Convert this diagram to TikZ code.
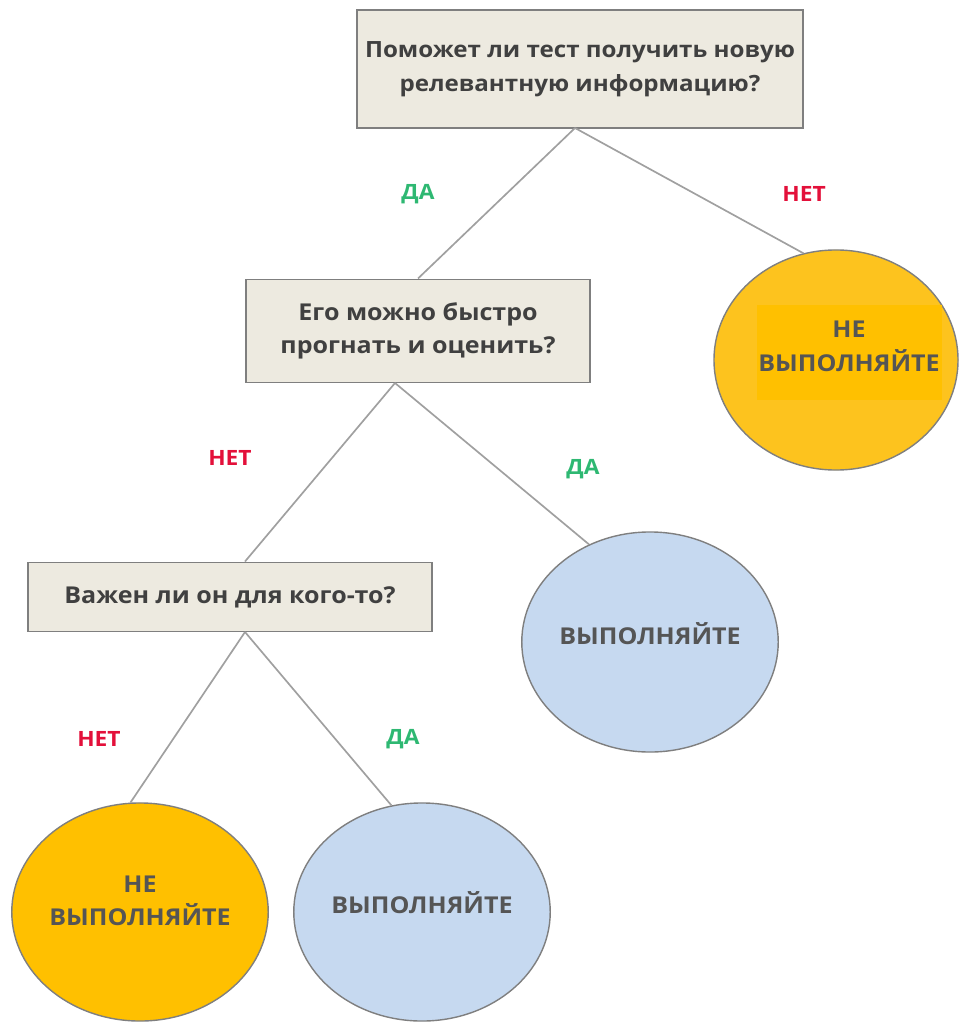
\documentclass[tikz,border=0pt]{standalone}
\usepackage{fontspec}
\setmainfont{Open Sans}[FakeStretch=1.08]
\usetikzlibrary{shapes.geometric}
\definecolor{boxfill}{HTML}{EDEAE0}
\definecolor{edgegray}{HTML}{7F7F7F}
\definecolor{linegray}{HTML}{A0A0A0}
\definecolor{amber}{HTML}{FFC000}
\definecolor{amberlt}{HTML}{FDC31E}
\definecolor{paleblue}{HTML}{C6D9F0}
\definecolor{yesgreen}{HTML}{2EB872}
\definecolor{nored}{HTML}{E3103A}
\definecolor{txtdark}{HTML}{404040}
\definecolor{txtgray}{HTML}{555555}
\tikzset{
  question/.style={draw=edgegray,line width=1.4pt,fill=boxfill,text=txtdark,align=center,
    font=\bfseries\fontsize{16.5}{24}\selectfont,inner sep=0pt},
  outcome/.style={ellipse,draw=edgegray,line width=1pt,text=txtgray,align=center,inner sep=0pt,
    minimum width=6.4cm,minimum height=5.5cm,font=\bfseries\fontsize{16.5}{24}\selectfont},
  branch/.style={draw=linegray,line width=1.2pt},
  yes/.style={text=yesgreen,font=\bfseries\fontsize{15}{18}\selectfont},
  no/.style={text=nored,font=\bfseries\fontsize{15}{18}\selectfont}
}
\begin{document}
\begin{tikzpicture}[x=0.025cm,y=-0.025cm]
\useasboundingbox (0,0) rectangle (960,1023);
% questions
\node[question,minimum width=11.15cm,minimum height=2.95cm,font=\bfseries\fontsize{15.9}{24}\selectfont] (q1) at (580,69) {Поможет ли тест получить новую\\релевантную информацию?};
\node[question,minimum width=8.6cm,minimum height=2.575cm] (q2) at (418,331) {Его можно быстро\\прогнать и оценить?};
\node[question,minimum width=10.1cm,minimum height=1.725cm] (q3) at (230,597) {Важен ли он для кого-то?};
% outcomes
\node[outcome,fill=amberlt,minimum width=6.1cm,minimum height=5.5cm] (skip1) at (836,360) {};
\fill[amber] (757,305) rectangle (942,400);
\node[outcome,draw=none,minimum width=0pt,minimum height=0pt,shape=rectangle] (skip1t) at (849,346) {НЕ\\ВЫПОЛНЯЙТЕ};
\node[outcome,fill=paleblue] (run1) at (650,642) {\raisebox{12pt}{ВЫПОЛНЯЙТЕ}};
\node[outcome,fill=amber,minimum height=5.45cm] (skip2) at (140,912) {НЕ\\ВЫПОЛНЯЙТЕ\\[-8pt]};
\node[outcome,fill=paleblue,minimum height=5.45cm] (run2) at (422,912) {\raisebox{14pt}{ВЫПОЛНЯЙТЕ}};
% branch points
\coordinate (j1) at (575,128);
\coordinate (j2) at (395,383);
\coordinate (j3) at (245,632);
\draw[branch] (j1) -- (q2.north);
\draw[branch] (j1) -- (skip1.107);
\draw[branch] (j2) -- (j3 |- q3.north);
\draw[branch] (j2) -- (run1.122);
\draw[branch] (j3) -- (skip2.95);
\draw[branch] (j3) -- (run2.106);
% answers
\node[yes] (a1) at (418,194) {ДА};
\node[no] (a2) at (804,194) {НЕТ};
\node[no] (a3) at (230,458) {НЕТ};
\node[yes] (a4) at (583,469) {ДА};
\node[no] (a5) at (99,739) {НЕТ};
\node[yes] (a6) at (403,739) {ДА};
\end{tikzpicture}
\end{document}
